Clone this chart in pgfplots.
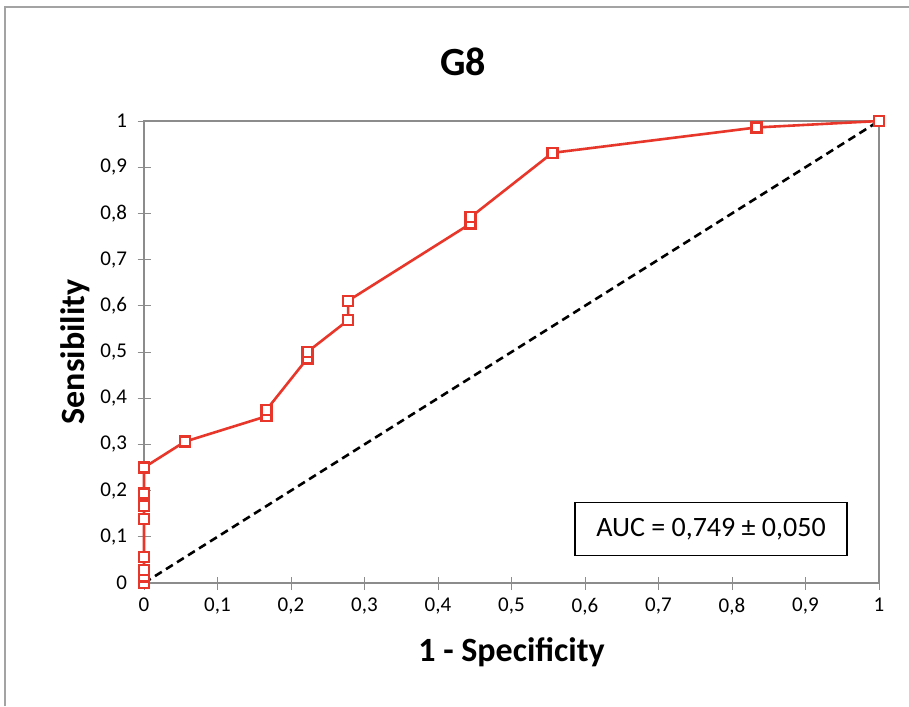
\documentclass[border=0pt]{standalone}
\usepackage{fontspec}
\setmainfont{Carlito}
\usepackage{pgfplots}
\pgfplotsset{compat=1.18}
\definecolor{rocred}{HTML}{E8372A}
\definecolor{framegray}{HTML}{8C8C8C}

\begin{document}
\begin{tikzpicture}
% outer chart frame (only left and top edges are visible)
\draw[framegray!80, line width=1.2pt] (5pt,-706pt) -- (5pt,-7pt) -- (909pt,-7pt);
\node[font=\fontsize{40}{42}\selectfont\bfseries] at (463pt,-62pt) {G8};
\begin{axis}[
    at={(144pt,-583pt)}, anchor=south west,
    scale only axis,
    width=735pt, height=462pt,
    xmin=0, xmax=1, ymin=0, ymax=1,
    xtick={0,0.1,...,1}, ytick={0,0.1,...,1},
    /pgf/number format/.cd, use comma, fixed, precision=1, assume math mode=true,
    /pgfplots/.cd,
    tick pos=left, tick align=center,
    major tick length=13pt,
    tick style={framegray, line width=1pt},
    axis line style={framegray, line width=1.2pt},
    tick label style={font=\fontsize{21}{23}\selectfont},
    xticklabel style={yshift=-5pt},
    yticklabel style={xshift=-7pt},
    xlabel={1 - Specificity},
    ylabel={Sensibility},
    label style={font=\fontsize{34}{36}\selectfont\bfseries},
    xlabel style={at={(0.5,-0.149)}, anchor=center},
    ylabel style={at={(-0.094,0.5)}, anchor=center},
    clip=false,
]
\addplot[black, line width=2.6pt, dash pattern=on 8pt off 5pt] coordinates {(0,0) (1,1)};
\addplot[rocred, line width=2.6pt, mark=square*, mark size=5pt,
  mark options={fill=white, draw=rocred, line width=2.4pt, solid}] coordinates {
  (0,0) (0,0.014) (0,0.028) (0,0.056) (0,0.139) (0,0.167) (0,0.194) (0,0.25)
  (0.0556,0.306) (0.1667,0.361) (0.1667,0.375) (0.2222,0.486) (0.2222,0.5)
  (0.2778,0.569) (0.2778,0.611) (0.4444,0.778) (0.4444,0.792)
  (0.5556,0.931) (0.8333,0.986) (1,1)
};
\end{axis}
\node[draw=black, line width=1.4pt, minimum width=272pt, minimum height=53pt,
  font=\fontsize{28}{30}\selectfont] at (711pt,-529pt) {AUC = 0,749 ± 0,050};
\pgfresetboundingbox
\useasboundingbox (0pt,0pt) rectangle (909pt,-706pt);
\end{tikzpicture}
\end{document}
